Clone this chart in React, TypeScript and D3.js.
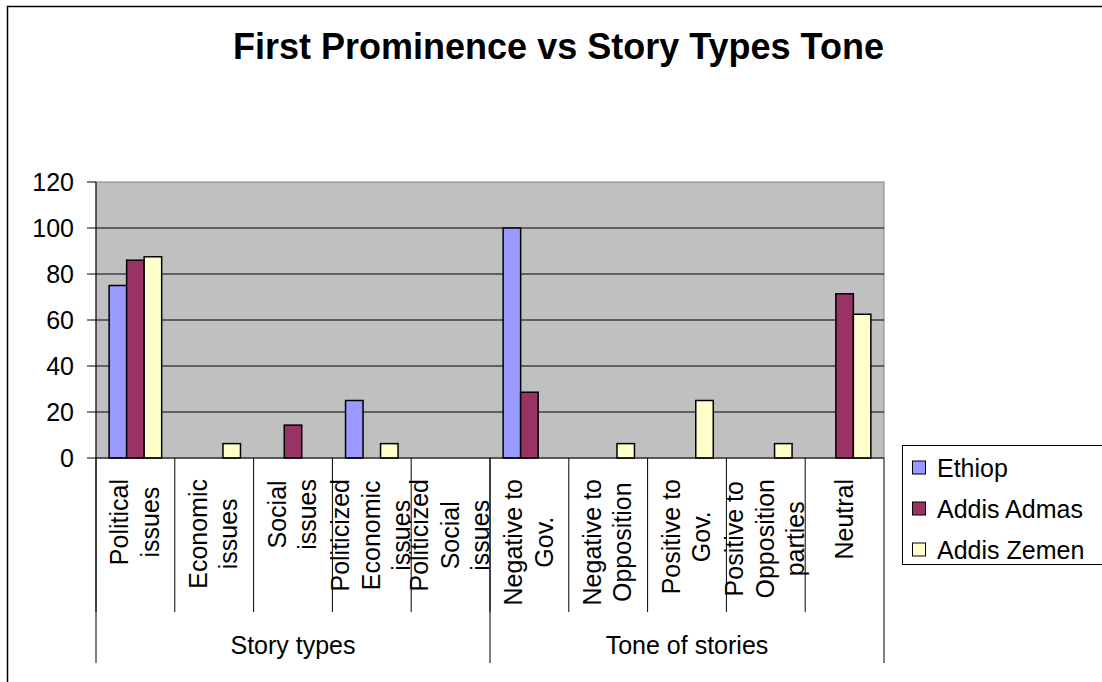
import React from "react";
import * as d3 from "d3";

const categories = [
  "Political issues",
  "Economic issues",
  "Social issues",
  "Politicized Economic issues",
  "Politicized Social issues",
  "Negative to Gov.",
  "Negative to Opposition",
  "Positive to Gov.",
  "Positive to Opposition parties",
  "Neutral",
];
const categoryLines = [
  ["Political", "issues"],
  ["Economic", "issues"],
  ["Social", "issues"],
  ["Politicized", "Economic", "issues"],
  ["Politicized", "Social", "issues"],
  ["Negative to", "Gov."],
  ["Negative to", "Opposition"],
  ["Positive to", "Gov."],
  ["Positive to", "Opposition", "parties"],
  ["Neutral"],
];
const groups = [
  { name: "Story types", from: 0, to: 4 },
  { name: "Tone of stories", from: 5, to: 9 },
];
const seriesNames = ["Ethiop", "Addis Admas", "Addis Zemen"];
const ethiop = [75, 0, 0, 25, 0, 100, 0, 0, 0, 0];
const addisAdmas = [86, 0, 14.3, 0, 0, 28.6, 0, 0, 0, 71.4];
const addisZemen = [87.5, 6.25, 0, 6.25, 0, 0, 6.25, 25, 6.25, 62.5];
const yTicks = [0, 20, 40, 60, 80, 100, 120];
const colors = ["#9999FF", "#993366", "#FFFFCC"];
const title = "First Prominence vs Story Types Tone";

const FONT = "'Liberation Sans', Arial, Helvetica, sans-serif";

function measure(text: string, size: number): number {
  if (typeof document === "undefined") return text.length * size * 0.5;
  const c = document.createElement("canvas");
  const ctx = c.getContext("2d");
  if (!ctx) return text.length * size * 0.5;
  ctx.font = `${size}px ${FONT}`;
  return ctx.measureText(text).width;
}

export default function App() {
  const W = 1102;
  const H = 682;
  const left = 96;
  const right = 884;
  const top = 182;
  const bottom = 458;
  const fs = 25;

  const x0 = d3.scaleBand<string>().domain(categories).range([left, right]).paddingInner(0).paddingOuter(0);
  const x1 = d3.scaleBand<string>().domain(seriesNames).range([0, x0.bandwidth()]).paddingInner(0).paddingOuter(0.75);
  const y = d3.scaleLinear().domain([0, 120]).range([bottom, top]);
  const seriesData = [ethiop, addisAdmas, addisZemen];
  const bw = x0.bandwidth();

  const lineGap = 30.5;
  const labelTop = 479;

  return (
    <svg
      width={W}
      height={H}
      style={{ position: "absolute", left: 0, top: 0, display: "block", background: "#fff" }}
      fontFamily={FONT}
    >
      {/* outer frame */}
      <rect x={7.5} y={6.5} width={1300} height={1000} fill="#fff" stroke="#000" strokeWidth={1.5} />

      {/* title */}
      <text x={558.5} y={59} textAnchor="middle" fontSize={36} fontWeight="bold" fill="#000">
        {title}
      </text>

      {/* plot area */}
      <rect x={left} y={top} width={right - left} height={bottom - top} fill="#C0C0C0" stroke="#808080" strokeWidth={1} />

      {/* gridlines */}
      {yTicks.filter((t) => t > 0 && t < 120).map((t) => (
        <line key={"g" + t} x1={left} x2={right} y1={y(t)} y2={y(t)} stroke="#000" strokeWidth={1} />
      ))}

      {/* bars */}
      {categories.map((c, ci) => (
        <g key={"c" + ci} transform={`translate(${x0(c)},0)`}>
          {seriesNames.map((s, si) => {
            const v = seriesData[si][ci];
            if (!v) return null;
            return (
              <rect
                key={s}
                x={x1(s)}
                y={y(v)}
                width={x1.bandwidth()}
                height={y(0) - y(v)}
                fill={colors[si]}
                stroke="#000"
                strokeWidth={1.5}
              />
            );
          })}
        </g>
      ))}

      {/* y axis */}
      <line x1={left} x2={left} y1={top} y2={bottom} stroke="#000" strokeWidth={1} />
      {yTicks.map((t) => (
        <g key={"t" + t}>
          <line x1={left - 9} x2={left} y1={y(t)} y2={y(t)} stroke="#000" strokeWidth={1} />
          <text x={74} y={y(t)} dy="0.36em" textAnchor="end" fontSize={fs} fill="#000">
            {t}
          </text>
        </g>
      ))}

      {/* x axis */}
      <line x1={left} x2={right} y1={bottom} y2={bottom} stroke="#000" strokeWidth={1} />
      {categories.map((c, ci) => {
        const xb = x0(c) as number;
        return (
          <line key={"d" + ci} x1={xb} x2={xb} y1={bottom} y2={612} stroke="#000" strokeWidth={1} />
        );
      })}
      <line x1={right} x2={right} y1={bottom} y2={663} stroke="#000" strokeWidth={1} />
      {groups.map((g) => {
        const xs = x0(categories[g.from]) as number;
        const xe = (x0(categories[g.to]) as number) + bw;
        return (
          <g key={g.name}>
            <line x1={xs} x2={xs} y1={bottom} y2={663} stroke="#000" strokeWidth={1} />
            <text x={(xs + xe) / 2} y={654} textAnchor="middle" fontSize={fs} fill="#000">
              {g.name}
            </text>
          </g>
        );
      })}

      {/* category labels */}
      {categories.map((c, ci) => {
        const lines = categoryLines[ci];
        const cx = (x0(c) as number) + bw / 2;
        const blockW = Math.max(...lines.map((l) => measure(l, fs)));
        const n = lines.length;
        return (
          <g key={"l" + ci} transform={`translate(${cx},${labelTop}) rotate(-90)`}>
            {lines.map((l, li) => (
              <text
                key={li}
                x={-blockW / 2}
                y={(li - (n - 1) / 2) * lineGap + 8}
                textAnchor="middle"
                fontSize={fs}
                fill="#000"
              >
                {l}
              </text>
            ))}
          </g>
        );
      })}

      {/* legend */}
      <rect x={902.5} y={445.5} width={260} height={119} fill="#fff" stroke="#000" strokeWidth={1} />
      {seriesNames.map((s, si) => {
        const cy = 467.5 + si * 41;
        return (
          <g key={"lg" + s}>
            <rect x={912.5} y={cy - 6.5} width={13} height={13} fill={colors[si]} stroke="#000" strokeWidth={1} />
            <text x={937} y={cy} dy="0.36em" fontSize={fs} fill="#000">
              {s}
            </text>
          </g>
        );
      })}
    </svg>
  );
}
